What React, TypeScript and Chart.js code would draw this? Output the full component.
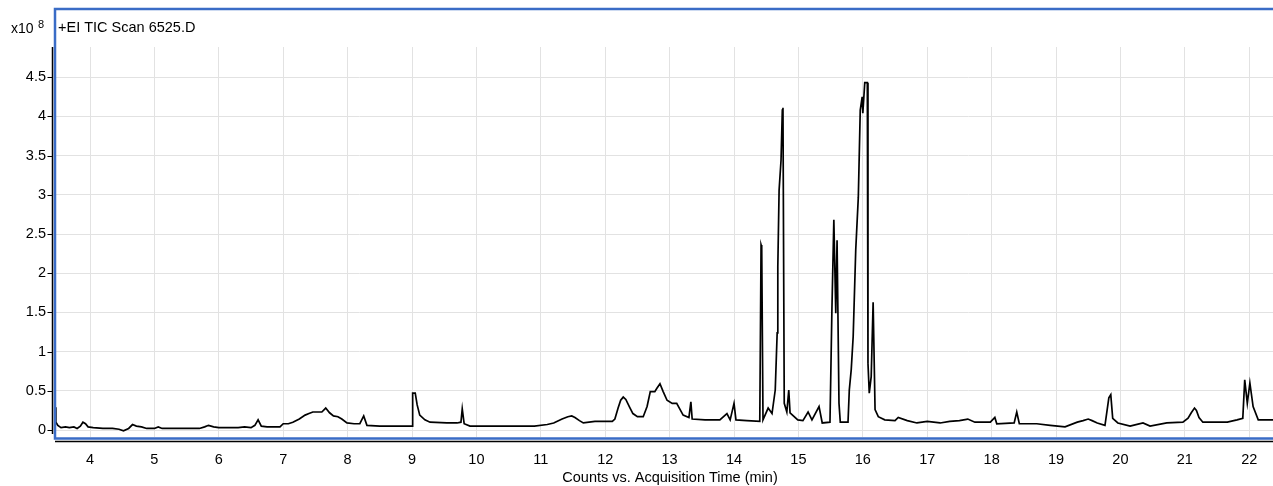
import React, { useEffect, useRef } from 'react';
import { Chart, registerables } from 'chart.js';

Chart.register(...registerables);

// Acquisition time (min)
const TIMES = [
  3.46, 3.47, 3.50, 3.55, 3.62, 3.68, 3.75, 3.80, 3.85, 3.89, 3.93, 3.97,
  4.05, 4.20, 4.35, 4.45, 4.52, 4.60, 4.66, 4.72, 4.80, 4.88, 5.00, 5.06,
  5.12, 5.35, 5.45, 5.70, 5.78, 5.84, 5.92, 6.00, 6.30, 6.40, 6.50, 6.56,
  6.61, 6.66, 6.75, 6.95, 7.00, 7.08, 7.15, 7.25, 7.34, 7.40, 7.46, 7.60,
  7.66, 7.72, 7.78, 7.85, 7.91, 7.99, 8.10, 8.19, 8.25, 8.30, 8.50, 8.80,
  9.00, 9.01, 9.05, 9.08, 9.12, 9.20, 9.28, 9.54, 9.70, 9.76, 9.78, 9.81,
  9.90, 10.30, 10.50, 10.90, 11.10, 11.20, 11.33, 11.42, 11.48, 11.53, 11.60, 11.66,
  11.84, 12.11, 12.15, 12.20, 12.24, 12.28, 12.32, 12.38, 12.43, 12.50, 12.59, 12.65,
  12.70, 12.77, 12.80, 12.85, 12.90, 12.96, 13.04, 13.11, 13.21, 13.30, 13.33, 13.35,
  13.55, 13.78, 13.89, 13.94, 14.00, 14.03, 14.20, 14.40, 14.42,
  14.43, 14.45, 14.53, 14.59, 14.64, 14.67, 14.68, 14.70, 14.73, 14.75, 14.76, 14.78,
  14.82, 14.85, 14.87, 14.99, 15.07, 15.15, 15.21, 15.32, 15.37, 15.49, 15.52, 15.55,
  15.58, 15.60, 15.63, 15.65, 15.77, 15.79, 15.82, 15.85, 15.89, 15.93, 15.96, 15.99,
  16.00, 16.03, 16.07, 16.08, 16.10, 16.13, 16.16, 16.19, 16.24, 16.34, 16.50, 16.55,
  16.69, 16.84, 17.00, 17.20, 17.35, 17.50, 17.63, 17.74, 17.98, 18.05, 18.08, 18.35, 18.39,
  18.43, 18.70, 18.91, 19.14, 19.33, 19.42, 19.50, 19.56, 19.64, 19.76, 19.82, 19.85, 19.88, 19.96,
  20.15, 20.35, 20.46, 20.72, 20.97, 21.05, 21.10, 21.15, 21.18, 21.22, 21.28, 21.66, 21.81, 21.90,
  21.93, 21.97, 22.01, 22.06, 22.14, 22.37,
];

// Counts (x10^8)
const COUNTS = [
  0.29, 0.10, 0.06, 0.03, 0.04, 0.03, 0.04, 0.02, 0.05, 0.10, 0.08, 0.04,
  0.03, 0.02, 0.02, 0.01, -0.01, 0.02, 0.07, 0.05, 0.04, 0.02, 0.02, 0.04,
  0.02, 0.02, 0.02, 0.02, 0.04, 0.06, 0.04, 0.03, 0.03, 0.04, 0.03, 0.06,
  0.13, 0.05, 0.04, 0.04, 0.08, 0.08, 0.10, 0.14, 0.19, 0.21, 0.23, 0.23,
  0.28, 0.22, 0.18, 0.17, 0.14, 0.09, 0.08, 0.08, 0.18, 0.06, 0.05, 0.05,
  0.05, 0.47, 0.47, 0.32, 0.19, 0.13, 0.10, 0.09, 0.09, 0.10, 0.27, 0.08,
  0.05, 0.05, 0.05, 0.05, 0.07, 0.09, 0.14, 0.17, 0.18, 0.16, 0.12, 0.09,
  0.11, 0.11, 0.14, 0.28, 0.38, 0.42, 0.39, 0.29, 0.21, 0.17, 0.17, 0.30,
  0.49, 0.49, 0.53, 0.59, 0.49, 0.38, 0.34, 0.34, 0.19, 0.16, 0.36, 0.14,
  0.13, 0.13, 0.21, 0.13, 0.34, 0.13, 0.12, 0.11, 2.36,
  2.33, 0.13, 0.28, 0.21, 0.51, 1.24, 2.08, 3.06, 3.44, 4.08, 4.11, 0.34,
  0.23, 0.51, 0.22, 0.13, 0.12, 0.23, 0.13, 0.30, 0.09, 0.10, 1.53, 2.68,
  1.49, 2.42, 0.34, 0.10, 0.10, 0.51, 0.77, 1.19, 2.30, 2.97, 4.08, 4.25,
  4.04, 4.43, 4.43, 0.85, 0.47, 0.68, 1.63, 0.26, 0.17, 0.13, 0.12, 0.16,
  0.12, 0.09, 0.11, 0.09, 0.11, 0.12, 0.14, 0.10, 0.10, 0.16, 0.08, 0.09, 0.23,
  0.08, 0.08, 0.06, 0.04, 0.10, 0.12, 0.14, 0.12, 0.09, 0.06, 0.41, 0.45, 0.15, 0.09,
  0.05, 0.09, 0.05, 0.09, 0.10, 0.15, 0.22, 0.28, 0.25, 0.16, 0.10, 0.10, 0.13, 0.15,
  0.64, 0.34, 0.60, 0.30, 0.13, 0.13,
];

const X_TICKS = [4, 5, 6, 7, 8, 9, 10, 11, 12, 13, 14, 15, 16, 17, 18, 19, 20, 21, 22];
const Y_TICKS = [0, 0.5, 1, 1.5, 2, 2.5, 3, 3.5, 4, 4.5];
const Y_TICK_LABELS = ['0', '0.5', '1', '1.5', '2', '2.5', '3', '3.5', '4', '4.5'];
const X_TITLE = 'Counts vs. Acquisition Time (min)';
const TRACE_LABEL = '+EI TIC Scan 6525.D';
const Y_MULT = 'x10';
const Y_EXP = '8';

const FONT = '"Liberation Sans", Arial, sans-serif';

const framePlugin = {
  id: 'msFrame',
  afterDraw(chart: any) {
    const ctx = chart.ctx;
    const a = chart.chartArea;
    const yScale = chart.scales.y;
    ctx.save();
    // blue frame
    ctx.strokeStyle = '#3a6cc6';
    ctx.lineWidth = 2.5;
    ctx.strokeRect(a.left, 9, 1400, a.bottom + 1.5 - 9);
    // black axes
    ctx.strokeStyle = '#000';
    ctx.lineWidth = 1.5;
    ctx.beginPath();
    ctx.moveTo(52.5, a.top);
    ctx.lineTo(52.5, a.bottom - 3);
    ctx.moveTo(a.left, a.bottom + 4.5);
    ctx.lineTo(chart.width, a.bottom + 4.5);
    ctx.stroke();
    // y tick marks
    ctx.lineWidth = 1.2;
    ctx.beginPath();
    Y_TICKS.forEach((v) => {
      const py = Math.round(yScale.getPixelForValue(v)) + 0.5;
      ctx.moveTo(47.5, py);
      ctx.lineTo(52.5, py);
    });
    ctx.stroke();
    // texts
    ctx.fillStyle = '#000';
    ctx.textBaseline = 'alphabetic';
    ctx.textAlign = 'left';
    ctx.font = `14px ${FONT}`;
    ctx.fillText(Y_MULT, 11, 33);
    ctx.font = `11px ${FONT}`;
    ctx.fillText(Y_EXP, 38, 28);
    ctx.font = `14.5px ${FONT}`;
    ctx.fillText(TRACE_LABEL, 58, 32);
    ctx.textAlign = 'center';
    ctx.textBaseline = 'middle';
    ctx.fillText(X_TITLE, 670, 478);
    ctx.restore();
  },
};

export default function App() {
  const ref = useRef<HTMLCanvasElement | null>(null);

  useEffect(() => {
    if (!ref.current) return;
    const points = TIMES.map((t, i) => ({ x: t, y: COUNTS[i] }));
    const chart = new Chart(ref.current, {
      type: 'line',
      data: {
        datasets: [
          {
            label: TRACE_LABEL,
            data: points,
            borderColor: '#000',
            borderWidth: 1.7,
            pointRadius: 0,
            tension: 0,
            fill: false,
          },
        ],
      },
      options: {
        responsive: false,
        maintainAspectRatio: false,
        animation: false,
        devicePixelRatio: 1,
        layout: { padding: { top: 47, left: 0, right: 0, bottom: 0 } },
        plugins: {
          legend: { display: false },
          tooltip: { enabled: false },
          title: { display: false },
        },
        scales: {
          x: {
            type: 'linear',
            min: 3.4565,
            max: 22.369,
            afterBuildTicks: (scale: any) => {
              scale.ticks = X_TICKS.map((v) => ({ value: v }));
            },
            afterFit: (scale: any) => {
              scale.height = 49;
            },
            grid: { color: '#e2e2e2', lineWidth: 1, drawTicks: false },
            border: { display: false },
            ticks: {
              color: '#000',
              font: { family: FONT, size: 14.5 },
              padding: 14,
              maxRotation: 0,
              autoSkip: false,
              callback: (v: any) => String(v),
            },
          },
          y: {
            type: 'linear',
            min: -0.089,
            max: 4.885,
            afterBuildTicks: (scale: any) => {
              scale.ticks = Y_TICKS.map((v) => ({ value: v }));
            },
            afterFit: (scale: any) => {
              scale.width = 55;
            },
            grid: { color: '#e2e2e2', lineWidth: 1, drawTicks: false },
            border: { display: false },
            ticks: {
              color: '#000',
              font: { family: FONT, size: 14.5 },
              padding: 9,
              autoSkip: false,
              callback: (v: any) => {
                const i = Y_TICKS.indexOf(Number(v));
                return i >= 0 ? Y_TICK_LABELS[i] : '';
              },
            },
          },
        },
      },
      plugins: [framePlugin],
    });
    return () => chart.destroy();
  }, []);

  return (
    <div style={{ position: 'fixed', left: 0, top: 0, width: 1273, height: 486, overflow: 'hidden', background: '#fff' }}>
      <canvas ref={ref} width={1273} height={486} style={{ display: 'block' }} />
    </div>
  );
}
